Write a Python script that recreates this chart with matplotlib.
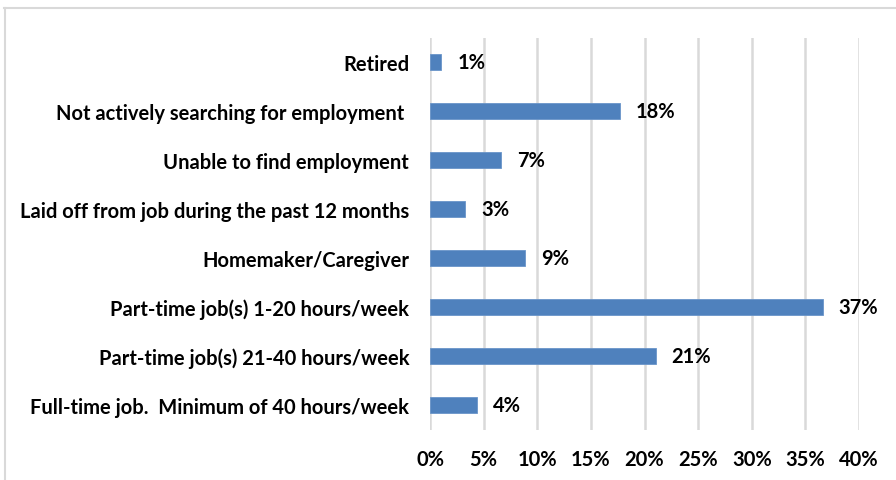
import matplotlib
matplotlib.use("Agg")
import matplotlib.pyplot as plt
from matplotlib.lines import Line2D

categories = [
    "Retired",
    "Not actively searching for employment ",
    "Unable to find employment",
    "Laid off from job during the past 12 months",
    "Homemaker/Caregiver",
    "Part-time job(s) 1-20 hours/week",
    "Part-time job(s) 21-40 hours/week",
    "Full-time job.  Minimum of 40 hours/week",
]
values = [1.05, 17.7, 6.6, 3.3, 8.85, 36.6, 21.05, 4.4]
value_labels = ["1%", "18%", "7%", "3%", "9%", "37%", "21%", "4%"]
xticks = [0, 5, 10, 15, 20, 25, 30, 35, 40]
xtick_labels = ["0%", "5%", "10%", "15%", "20%", "25%", "30%", "35%", "40%"]

plt.rcParams['font.family'] = ['Lato', 'DejaVu Sans']
plt.rcParams['font.weight'] = 'bold'

FS = 14.5
W, H = 896, 481
fig = plt.figure(figsize=(W / 100, H / 100), dpi=100)
ax = fig.add_axes([430 / W, 1 - 430.5 / H, (859 - 430) / W, (430.5 - 38.5) / H])

n = len(categories)
ypos = list(range(n))[::-1]
ax.barh(ypos, values, height=0.31, color="#4F81BD", edgecolor="#6a95c9", linewidth=0.6, zorder=3)
for y, v, lab in zip(ypos, values, value_labels):
    ax.annotate(lab, (v, y), xytext=(11.5, 0), textcoords="offset points",
                ha="left", va="center", fontsize=FS, fontweight="bold", color="black")

ax.set_xlim(0, 40)
ax.set_ylim(-0.5, n - 0.5)
ax.set_xticks(xticks)
ax.set_xticklabels(xtick_labels, fontsize=FS, fontweight="bold")
ax.set_yticks(ypos)
ax.set_yticklabels(categories, fontsize=FS, fontweight="bold")
ax.tick_params(axis="both", length=0)
ax.tick_params(axis="y", pad=15)
ax.tick_params(axis="x", pad=14)
ax.xaxis.grid(True, color="#d9d9d9", linewidth=1.8, zorder=0)
ax.set_axisbelow(True)
for s in ax.spines.values():
    s.set_visible(False)

# outer chart border (top and left visible)
fig.add_artist(Line2D([4 / W, 1.0], [1 - 8.5 / H, 1 - 8.5 / H], color="#d9d9d9", linewidth=1.5))
fig.add_artist(Line2D([4.5 / W, 4.5 / W], [0.0, 1 - 8.5 / H], color="#d9d9d9", linewidth=1.5))

fig.savefig("out.png", dpi=100)
